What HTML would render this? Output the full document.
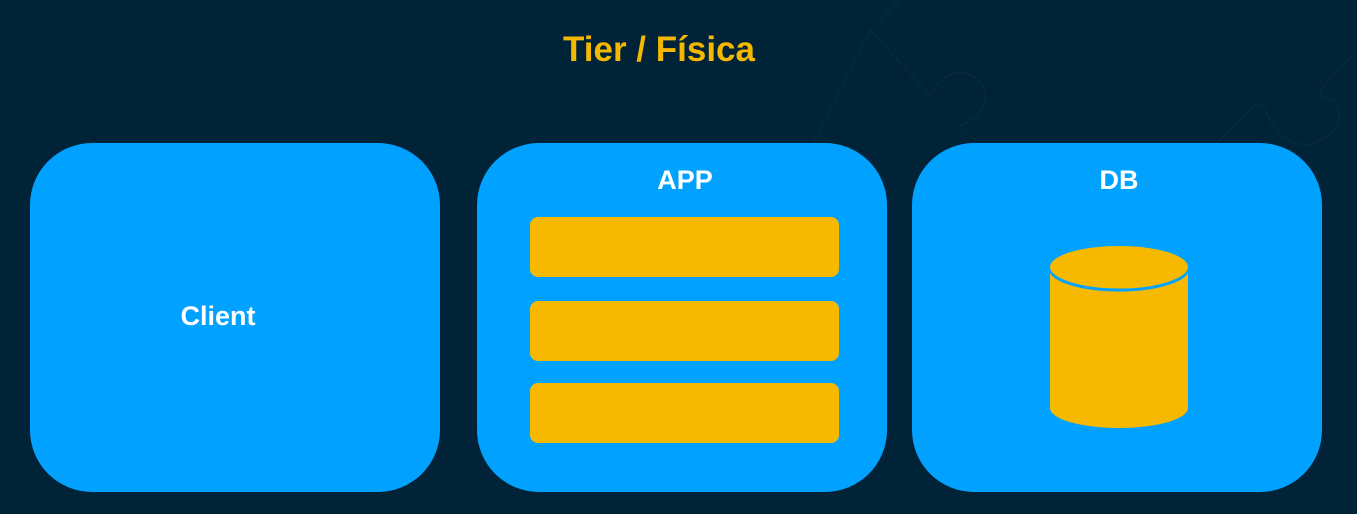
<!DOCTYPE html>
<html><head><meta charset="utf-8"><style>
html,body{margin:0;padding:0;}
body{width:1357px;height:514px;background:#012338;position:relative;overflow:hidden;font-family:"Liberation Sans",Arial,sans-serif;}
.t{position:absolute;left:0;width:1318px;top:30px;text-align:center;color:#f5b800;font-weight:bold;font-size:35px;}
.box{position:absolute;top:143px;width:410px;height:349px;background:#00a1ff;border-radius:62px;}
.lbl{position:absolute;color:#fff;font-weight:bold;font-size:27px;width:100%;text-align:center;}
.bar{position:absolute;left:53px;width:309px;height:60px;background:#f7b900;border-radius:8px;}
</style></head><body>
<svg style="position:absolute;left:0;top:0" width="1357" height="514">
<g fill="none" stroke="#0a2c40" stroke-width="1">
<path d="M800 170 Q850 70 870 30 L930 95 Q940 75 960 72 Q985 75 985 100 Q980 120 960 125 L995 160"/>
<path d="M880 20 L900 0"/>
<path d="M1218 142 L1252 108 Q1262 100 1266 112 Q1280 145 1310 145 Q1350 130 1335 100 Q1320 98 1320 90 L1358 50"/>
</g>
</svg>
<div class="t">Tier / Física</div>
<div class="box" style="left:30px"><div class="lbl" style="top:158px;left:-17px">Client</div></div>
<div class="box" style="left:477px"><div class="lbl" style="top:22px;left:3px">APP</div>
<div class="bar" style="top:74px"></div><div class="bar" style="top:158px"></div><div class="bar" style="top:240px"></div></div>
<div class="box" style="left:912px"><div class="lbl" style="top:22px;left:2px">DB</div></div>
<svg style="position:absolute;left:1045px;top:240px" width="150" height="195">
<path d="M5 28 L5 168 A69 20 0 0 0 143 168 L143 28 Z" fill="#f7b900"/>
<ellipse cx="74" cy="28" rx="69" ry="22" fill="#f7b900" stroke="#00a1ff" stroke-width="3"/>
<ellipse cx="74" cy="27" rx="69" ry="21" fill="#f7b900"/>
</svg>
</body></html>
